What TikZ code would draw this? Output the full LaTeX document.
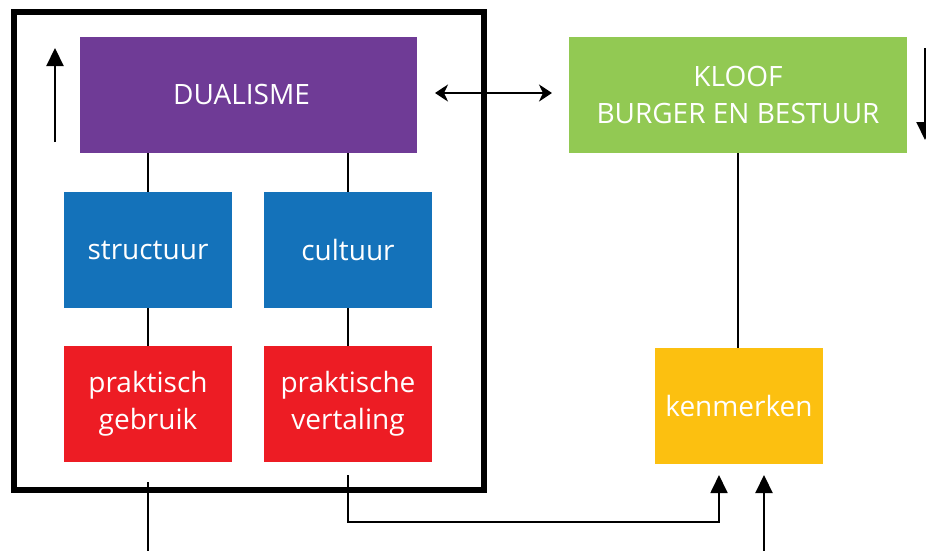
\documentclass[tikz,border=0pt]{standalone}
\usepackage{fontspec}
\setmainfont{Open Sans}
\usetikzlibrary{arrows.meta}
\definecolor{cpurple}{RGB}{111,59,150}
\definecolor{cgreen}{RGB}{146,201,83}
\definecolor{cblue}{RGB}{20,114,186}
\definecolor{cred}{RGB}{237,28,36}
\definecolor{cyellow}{RGB}{252,192,16}
\tikzset{
  box/.style={rectangle, inner sep=0pt, text=white, align=center,
    font=\fontsize{28}{37}\selectfont},
  bigbox/.style={box, minimum width=337pt, minimum height=116pt},
  smallbox/.style={box, minimum width=168pt, minimum height=116pt},
  link/.style={line width=1.8pt},
  tip/.style={-{Triangle[length=18pt,width=17pt]}},
  flow/.style={line width=2.2pt, tip},
  both/.style={line width=2.2pt, {Stealth[length=13pt,width=17pt,inset=4pt]}-{Stealth[length=13pt,width=17pt,inset=4pt]}},
}
\begin{document}
\begin{tikzpicture}[x=1pt,y=-1pt]
  \useasboundingbox (0,0) rectangle (926,550);

  % enclosing frame
  \coordinate (fnw) at (13.5,12);
  \coordinate (fse) at (483.5,490);
  \draw[line width=6pt] (fnw) rectangle (fse);

  % boxes
  \node[bigbox, fill=cpurple] (dual) at (248.5,95) {\hspace*{-14pt}\raisebox{2pt}{DUALISME}};
  \node[bigbox, minimum width=338pt, fill=cgreen] (kloof) at (738,95) {KLOOF\\BURGER EN BESTUUR};
  \node[smallbox, fill=cblue] (struct) at (148,250) {structuur};
  \node[smallbox, fill=cblue] (cult) at (348,250) {cultuur};
  \node[smallbox, fill=cred] (prak1) at (148,404) {praktisch\\gebruik};
  \node[smallbox, fill=cred] (prak2) at (348,404) {praktische\\vertaling};
  \node[smallbox, fill=cyellow] (kenm) at (739,406) {kenmerken};

  % links inside the frame
  \draw[link] (struct.north) -- (struct.north |- dual.south);
  \draw[link] (cult.north) -- (cult.north |- dual.south);
  \draw[link] (prak1.north) -- (prak1.north |- struct.south);
  \draw[link] (prak2.north) -- (prak2.north |- cult.south);
  \draw[link] (kloof.south) -- (kloof.south |- kenm.north);

  % side arrows
  \coordinate (upS) at (55,142);
  \coordinate (upE) at (55,48);
  \draw[flow] (upS) -- (upE);
  \coordinate (dnS) at (925,48);
  \coordinate (dnE) at (925,140);
  \draw[flow] (dnS) -- (dnE);

  % double arrow between the two top boxes
  \coordinate (dbA) at (435,93);
  \coordinate (dbB) at (552,93);
  \draw[both] (dbA) -- (dbB);

  % lines below the frame
  \coordinate (l1a) at (148,482);
  \coordinate (l1b) at (148,552);
  \draw[link] (l1a) -- (l1b);

  \coordinate (l2a) at (348,475);
  \coordinate (l2b) at (348,522);
  \coordinate (l2c) at (719,522);
  \coordinate (l2d) at (719,475);
  \draw[link, tip] (l2a) -- (l2b) -- (l2c) -- (l2d);

  \coordinate (l3a) at (764,552);
  \coordinate (l3b) at (764,475);
  \draw[flow] (l3a) -- (l3b);
\end{tikzpicture}
\end{document}
